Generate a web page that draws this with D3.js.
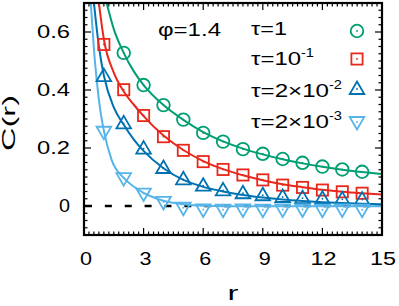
<!DOCTYPE html>
<html><head><meta charset="utf-8">
<script src="https://cdn.jsdelivr.net/npm/d3@7"></script>
<style>body{margin:0;background:#fff}svg{display:block}text{font-family:"Liberation Sans",Arial,sans-serif;fill:#000}</style>
</head><body><svg id="c" width="399" height="306"></svg>
<script>
// ---- data ----
const rPts = [1,2,3,4,5,6,7,8,9,10,11,12,13,14];
const tau1   = [null,0.528,0.417,0.348,0.298,0.252,0.222,0.196,0.180,0.162,0.149,0.136,0.126,0.118];
const tau1e1 = [0.557,0.401,0.312,0.239,0.192,0.153,0.126,0.107,0.090,0.072,0.064,0.055,0.049,0.044];
const tau2e2 = [0.448,0.285,0.198,0.131,0.092,0.070,0.054,0.044,0.037,0.031,0.027,0.025,0.023,0.022];
const tau2e3 = [0.256,0.096,0.043,0.014,-0.006,-0.012,-0.013,-0.012,-0.013,-0.012,-0.012,-0.013,-0.012,-0.013];
// fit curves: [r, C]
const fit1   = [[1.14,0.70],[1.5,0.61],[2,0.528],[2.5,0.465],[3,0.417],[4,0.348],[5,0.297],[6,0.255],[7,0.223],[8,0.198],[9,0.178],[10,0.161],[11,0.147],[12,0.135],[13,0.125],[14,0.117],[15,0.110]];
const fit1e1 = [[0.75,0.70],[1,0.575],[1.5,0.46],[2,0.395],[2.5,0.35],[3,0.31],[4,0.243],[5,0.193],[6,0.155],[7,0.127],[8,0.106],[9,0.089],[10,0.075],[11,0.065],[12,0.056],[13,0.049],[14,0.044],[15,0.040]];
const fit2e2 = [[0.5,0.70],[0.75,0.55],[1,0.45],[1.5,0.34],[2,0.28],[2.5,0.23],[3,0.19],[4,0.13],[5,0.09],[6,0.066],[7,0.050],[8,0.038],[9,0.029],[10,0.022],[11,0.017],[12,0.013],[13,0.010],[14,0.008],[15,0.006]];
const fit2e3 = [[0.34,0.70],[0.5,0.54],[0.64,0.434],[0.8,0.34],[1,0.26],[1.39,0.159],[2,0.097],[2.5,0.067],[3,0.045],[4,0.018],[5,0.006],[6,0.001],[8,-0.001],[10,-0.001],[15,-0.001]];
const xTicks = [0,3,6,9,12,15];
const yTicks = [0,0.2,0.4,0.6];
const yTickLabels = ["0","0.2","0.4","0.6"];
const legendMain = ["τ=1","τ=10","τ=2×10","τ=2×10"];
const legendSup  = ["","-1","-2","-3"];
const phiLabel = "φ=1.4";

// ---- layout ----
const L=84,R=382,T=3,B=235;
const svg=d3.select("#c");
const x=d3.scaleLinear().domain([0,15]).range([L,R]);
const y=d3.scaleLinear().domain([-0.1,0.7]).range([B,T]);
const colors=["#009e73","#e8281c","#0072b2","#56b4e9"];
const shapes=["circle","square","tri","itri"];

svg.append("defs").append("clipPath").attr("id","clip").append("rect")
  .attr("x",L).attr("y",T).attr("width",R-L).attr("height",B-T);

// ticks (inward, mirrored)
const minorX=d3.range(0,60.001,1).map(i=>i*0.25);
const minorY=d3.range(0,32.001,1).map(i=>-0.1+i*0.025);
const tk=svg.append("g").attr("stroke","#000").attr("stroke-width",1.2);
minorX.forEach(v=>{const major=xTicks.some(t=>Math.abs(t-v)<1e-6);const len=major?7:3.5;
  tk.append("line").attr("x1",x(v)).attr("x2",x(v)).attr("y1",B).attr("y2",B-len);
  tk.append("line").attr("x1",x(v)).attr("x2",x(v)).attr("y1",T).attr("y2",T+len);});
minorY.forEach(v=>{const major=yTicks.some(t=>Math.abs(t-v)<1e-6);const len=major?7:3.5;
  tk.append("line").attr("y1",y(v)).attr("y2",y(v)).attr("x1",L).attr("x2",L+len);
  tk.append("line").attr("y1",y(v)).attr("y2",y(v)).attr("x1",R).attr("x2",R-len);});

// zero dashed line
svg.append("line").attr("x1",x(0)+1).attr("x2",x(15)).attr("y1",y(0)).attr("y2",y(0))
  .attr("stroke","#000").attr("stroke-width",2.6).attr("stroke-dasharray","7,12.87");

// curves
const line=d3.line().x(d=>x(d[0])).y(d=>y(d[1])).curve(d3.curveMonotoneX);
const gc=svg.append("g").attr("clip-path","url(#clip)");
[fit1,fit1e1,fit2e2,fit2e3].forEach((f,i)=>{
  gc.append("path").attr("d",line(f)).attr("fill","none").attr("stroke",colors[i]).attr("stroke-width",2);
});

function marker(g,shape,cx,cy,col){
  const m=g.append("g").attr("transform",`translate(${cx},${cy})`).attr("fill","none").attr("stroke",col).attr("stroke-width",1.8);
  if(shape==="circle") m.append("circle").attr("r",6.3);
  else if(shape==="square") m.append("rect").attr("x",-5.6).attr("y",-5.6).attr("width",11.2).attr("height",11.2);
  else if(shape==="tri") m.append("path").attr("d","M0,-7.5L7.3,5L-7.3,5Z");
  else m.append("path").attr("d","M0,7.5L7.3,-5L-7.3,-5Z");
  m.append("circle").attr("r",0.9).attr("fill",col).attr("stroke","none");
}
const gm=svg.append("g").attr("clip-path","url(#clip)");
[tau1,tau1e1,tau2e2,tau2e3].forEach((s,i)=>{
  s.forEach((v,j)=>{ if(v!==null) marker(gm,shapes[i],x(rPts[j]),y(v),colors[i]); });
});

// border
svg.append("rect").attr("x",L).attr("y",T).attr("width",R-L).attr("height",B-T)
  .attr("fill","none").attr("stroke","#000").attr("stroke-width",2.2);

// tick labels (wide glyphs as in the reference)
const fs=18;
xTicks.forEach(t=>{const s=String(t);
  svg.append("text").attr("x",x(t)+(s.length===1?2:1)).attr("y",265).attr("text-anchor","middle")
  .attr("font-size",fs).attr("textLength",s.length===1?12:26).attr("lengthAdjust","spacingAndGlyphs").text(s);});
yTicks.forEach((t,i)=>{const s=yTickLabels[i];
  svg.append("text").attr("x",70).attr("y",y(t)).attr("dy","0.36em").attr("text-anchor","end")
  .attr("font-size",fs).attr("textLength",s.length===1?11:33).attr("lengthAdjust","spacingAndGlyphs").text(s);});

// axis labels
svg.append("text").attr("x",233).attr("y",300).attr("text-anchor","middle").attr("font-size",20)
  .attr("textLength",11).attr("lengthAdjust","spacingAndGlyphs").text("r");
svg.append("text").attr("transform","translate(15,123) rotate(-90)").attr("text-anchor","middle").attr("font-size",18)
  .attr("textLength",56).attr("lengthAdjust","spacingAndGlyphs").text("C(r)");

// phi label
svg.append("text").attr("x",158).attr("y",36).attr("font-size",18)
  .attr("textLength",63).attr("lengthAdjust","spacingAndGlyphs").text(phiLabel);

// legend
const baselines=[35,65,97,128];
const mY=[31,59,89,122];
const mainLen=[36,50,78,78];
legendMain.forEach((t,i)=>{
  const tx=svg.append("text").attr("x",251).attr("y",baselines[i]).attr("font-size",fs);
  tx.append("tspan").attr("textLength",mainLen[i]).attr("lengthAdjust","spacingAndGlyphs").text(t);
  if(legendSup[i]) tx.append("tspan").attr("dy",-8).attr("font-size",13)
    .attr("textLength",13).attr("lengthAdjust","spacingAndGlyphs").text(legendSup[i]);
  marker(svg,shapes[i],357,mY[i],colors[i]);
});
</script></body></html>
